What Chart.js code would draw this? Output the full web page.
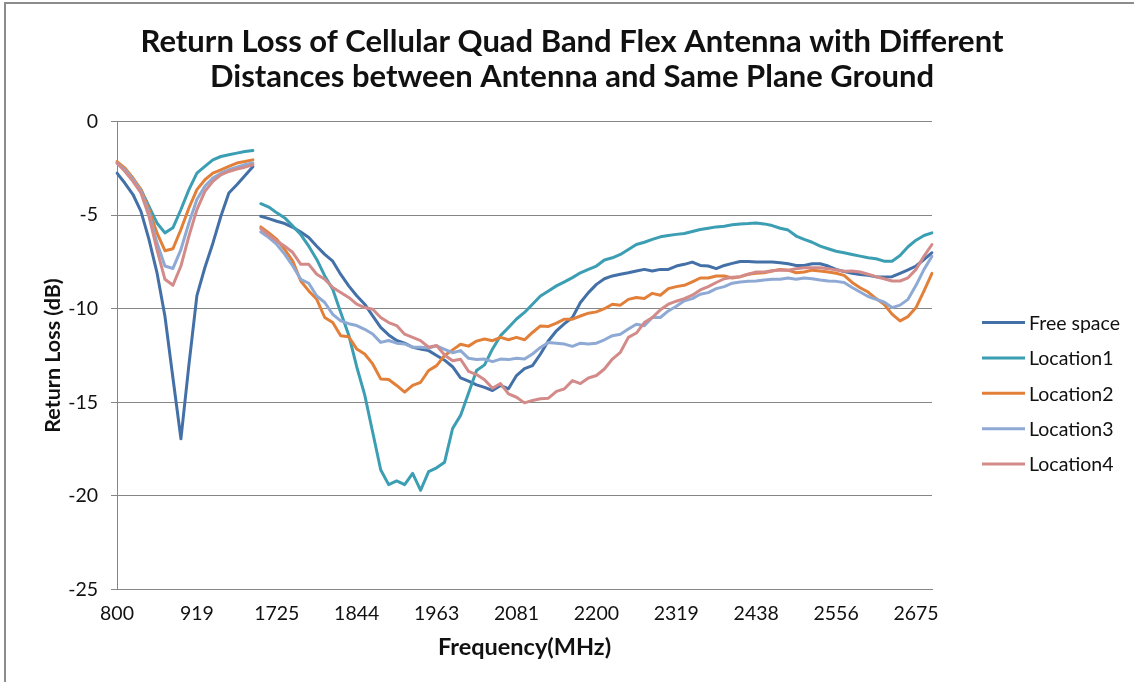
<!DOCTYPE html>
<html>
<head>
<meta charset="utf-8">
<script src="https://cdn.jsdelivr.net/npm/chart.js@4.4.1/dist/chart.umd.min.js"></script>
<style>
  html, body { margin: 0; padding: 0; background: #ffffff; }
  #wrap { position: relative; width: 1134px; height: 682px; overflow: hidden; }
  #frame { position: absolute; left: 4px; top: 2px; width: 1200px; height: 800px;
           border-left: 2px solid #8c8c8c; border-top: 2px solid #8c8c8c; pointer-events: none; }
</style>
</head>
<body>
<div id="wrap">
  <canvas id="c" width="1134" height="682"></canvas>
  <div id="frame"></div>
</div>
<script>
// ---------------- data ----------------
const titleLines = [
  "Return Loss of Cellular Quad Band Flex Antenna with Different",
  "Distances between Antenna and Same Plane Ground"
];
const xTitle = "Frequency(MHz)";
const yTitle = "Return Loss (dB)";

// sweep points (MHz): low band then high band
const lowBandMHz = [800, 812, 824, 836, 848, 859, 871, 883, 895, 907, 919, 931, 943, 954, 966, 978, 990, 1002];
const highBandMHz = [
  1701, 1713, 1725, 1737, 1749, 1761, 1773, 1784, 1796, 1808, 1820, 1832, 1844, 1856, 1868, 1879, 1891, 1903,
  1915, 1927, 1939, 1951, 1963, 1974, 1986, 1998, 2010, 2022, 2034, 2046, 2058, 2069, 2081, 2093, 2105, 2117,
  2129, 2141, 2153, 2164, 2176, 2188, 2200, 2212, 2224, 2236, 2248, 2259, 2271, 2283, 2295, 2307, 2319, 2331,
  2343, 2354, 2366, 2378, 2390, 2402, 2414, 2426, 2438, 2449, 2461, 2473, 2485, 2497, 2509, 2521, 2533, 2544,
  2556, 2568, 2580, 2592, 2604, 2616, 2628, 2639, 2651, 2663, 2675, 2687, 2699
];
const tickLabels = ["800", "919", "1725", "1844", "1963", "2081", "2200", "2319", "2438", "2556", "2675"];
const yTicks = { min: -25, max: 0, step: 5 };

const seriesNames = ["Free space", "Location1", "Location2", "Location3", "Location4"];

const freeSpace = [
  -2.76, -3.3, -3.9, -4.8, -6.3, -8.07, -10.4, -13.7, -16.95, -13.0, -9.3, -7.8, -6.5, -5.06, -3.82, -3.38, -2.9, -2.42,
  -5.06, -5.19, -5.33, -5.45, -5.65, -5.9, -6.2, -6.66, -7.1, -7.46, -8.17, -8.78, -9.31, -9.76, -10.38, -11.0, -11.4, -11.7,
  -11.84, -12.06, -12.15, -12.24, -12.5, -12.75, -13.1, -13.7, -13.87, -14.07,
  -14.2, -14.37, -14.1, -14.28, -13.57, -13.2, -13.04, -12.42, -11.71, -11.18, -10.8, -10.47, -9.67, -9.14, -8.7, -8.4,
  -8.25, -8.16, -8.08, -7.99, -7.9, -7.99, -7.9, -7.9, -7.72,
  -7.63, -7.51, -7.69, -7.72, -7.86, -7.69, -7.58, -7.48, -7.48, -7.51, -7.51, -7.51, -7.55, -7.6, -7.69, -7.69,
  -7.6, -7.6, -7.72, -7.9, -8.01, -8.11, -8.18, -8.22, -8.29, -8.31, -8.29, -8.11, -7.93, -7.72, -7.37, -7.01
];
const location1 = [
  -2.2, -2.58, -3.11, -3.64, -4.53, -5.42, -5.95, -5.68, -4.7, -3.64, -2.76, -2.4, -2.05, -1.87, -1.78, -1.69, -1.6, -1.55,
  -4.39, -4.57, -4.88, -5.15, -5.59, -6.04, -6.66, -7.37, -8.25, -8.96, -10.2, -11.4, -13.1, -14.6, -16.6, -18.6, -19.4, -19.2,
  -19.4, -18.8, -19.7, -18.7, -18.5, -18.2, -16.4, -15.7, -14.5, -13.3,
  -13.0, -12.15, -11.44, -11.0, -10.55, -10.2, -9.76, -9.32, -9.05, -8.78, -8.57, -8.34, -8.08, -7.9, -7.72, -7.4,
  -7.28, -7.1, -6.84, -6.57, -6.45, -6.3, -6.16, -6.09, -6.03,
  -5.98, -5.88, -5.77, -5.7, -5.63, -5.59, -5.52, -5.47, -5.45, -5.42, -5.47, -5.56, -5.7, -5.8, -6.12, -6.3,
  -6.45, -6.66, -6.8, -6.93, -7.01, -7.1, -7.19, -7.28, -7.33, -7.46, -7.46, -7.16, -6.69, -6.34, -6.09, -5.95
];
const location2 = [
  -2.14, -2.49, -3.02, -3.64, -4.7, -5.95, -6.9, -6.8, -5.77, -4.62, -3.64, -3.11, -2.76, -2.58, -2.4, -2.22, -2.14, -2.05,
  -5.63, -5.95, -6.3, -6.84, -7.46, -8.52, -9.05, -9.5, -10.47, -10.74, -11.44, -11.5, -12.15, -12.42, -12.95, -13.75, -13.78, -14.1,
  -14.46, -14.1, -13.93, -13.3, -13.04, -12.5, -12.2, -11.9, -12.0, -11.73,
  -11.62, -11.71, -11.53, -11.66, -11.53, -11.66, -11.27, -10.92, -10.95, -10.77, -10.56, -10.56, -10.39, -10.24, -10.17, -10.0,
  -9.76, -9.81, -9.5, -9.4, -9.46, -9.18, -9.28, -8.93, -8.82,
  -8.75, -8.57, -8.36, -8.36, -8.25, -8.25, -8.36, -8.29, -8.16, -8.11, -8.08, -7.99, -7.9, -7.94, -8.08, -8.04,
  -7.94, -7.99, -8.04, -8.11, -8.22, -8.6, -8.88, -9.11, -9.46, -9.76, -10.29, -10.65, -10.42, -9.94, -9.05, -8.11
];
const location3 = [
  -2.22, -2.58, -3.11, -3.73, -4.88, -6.48, -7.72, -7.85, -6.84, -5.42, -4.17, -3.46, -3.02, -2.76, -2.58, -2.44, -2.31, -2.22,
  -5.9, -6.2, -6.57, -7.1, -7.72, -8.43, -8.64, -9.32, -9.67, -10.3, -10.65, -10.8, -10.9, -11.1, -11.35, -11.8, -11.7, -11.84,
  -11.88, -12.06, -12.06, -12.1, -11.98, -12.17, -12.35, -12.24, -12.65, -12.71,
  -12.69, -12.83, -12.69, -12.72, -12.65, -12.69, -12.42, -12.07, -11.8, -11.84, -11.89, -12.01, -11.84, -11.89, -11.84, -11.66,
  -11.44, -11.36, -11.09, -10.83, -10.91, -10.47, -10.47, -10.12, -9.87,
  -9.58, -9.46, -9.23, -9.14, -8.93, -8.82, -8.64, -8.57, -8.54, -8.52, -8.47, -8.43, -8.43, -8.36, -8.43, -8.36,
  -8.4, -8.47, -8.52, -8.54, -8.6, -8.87, -9.11, -9.35, -9.5, -9.64, -9.94, -9.81, -9.5, -8.75, -7.9, -7.2
];
const location4 = [
  -2.22, -2.67, -3.2, -3.82, -5.06, -6.84, -8.43, -8.75, -7.72, -6.12, -4.71, -3.73, -3.2, -2.85, -2.67, -2.54, -2.44, -2.31,
  -5.72, -6.07, -6.39, -6.66, -7.0, -7.63, -7.63, -8.16, -8.43, -8.87, -9.14, -9.4, -9.76, -9.94, -10.03, -10.47, -10.74, -10.9,
  -11.36, -11.53, -11.7, -12.06, -11.97, -12.47, -12.78, -12.7, -13.35, -13.52,
  -13.79, -14.25, -14.0, -14.55, -14.73, -15.03, -14.9, -14.81, -14.78, -14.42, -14.28, -13.84, -14.0, -13.7, -13.57, -13.22,
  -12.69, -12.33, -11.53, -11.3, -10.74, -10.47, -10.06, -9.76, -9.6,
  -9.46, -9.28, -9.0, -8.82, -8.6, -8.4, -8.32, -8.29, -8.16, -8.04, -8.04, -7.97, -7.93, -7.95, -7.86, -7.81,
  -7.81, -7.81, -7.86, -7.93, -8.0, -7.99, -8.04, -8.16, -8.29, -8.4, -8.52, -8.52, -8.35, -7.9, -7.19, -6.57
];

// ---------------- styles ----------------
const seriesColors = ["#4470a8", "#3b9eb3", "#e2803a", "#8eaad4", "#d38b8a"];
const FONT = "Lato, 'Open Sans', sans-serif";
const TEXT = "#111111";
const GRID = "#868686";

const categories = lowBandMHz.concat(highBandMHz).map(String);
const bandBreak = lowBandMHz.length - 1;   // no segment drawn between the two sweeps
const allSeries = [freeSpace, location1, location2, location3, location4];

const datasets = allSeries.map((vals, i) => ({
  label: seriesNames[i],
  data: vals,
  borderColor: seriesColors[i],
  backgroundColor: seriesColors[i],
  borderWidth: 3,
  pointRadius: 0,
  pointHoverRadius: 0,
  tension: 0,
  fill: false,
  borderJoinStyle: 'round',
  borderCapStyle: 'round',
  order: allSeries.length - i,
  segment: {
    borderColor: ctx => ctx.p0DataIndex === bandBreak ? 'rgba(0,0,0,0)' : seriesColors[i]
  }
}));

const sideLegend = {
  id: 'sideLegend',
  afterDraw(chart, args, o) {
    const ctx = chart.ctx;
    ctx.save();
    ctx.font = o.size + "px " + FONT;
    ctx.textBaseline = 'middle';
    ctx.textAlign = 'left';
    chart.data.datasets.forEach((ds, i) => {
      const y = o.top + i * o.gap;
      ctx.strokeStyle = ds.borderColor;
      ctx.lineWidth = ds.borderWidth;
      ctx.lineCap = 'butt';
      ctx.beginPath();
      ctx.moveTo(o.x, y);
      ctx.lineTo(o.x + o.len, y);
      ctx.stroke();
      ctx.fillStyle = TEXT;
      ctx.fillText(ds.label, o.x + o.len + 4, y + 1);
    });
    ctx.restore();
  }
};

new Chart(document.getElementById('c'), {
  type: 'line',
  data: { labels: categories, datasets },
  plugins: [sideLegend],
  options: {
    responsive: false,
    animation: false,
    devicePixelRatio: 1,
    events: [],
    layout: { padding: { left: 10, right: 0, top: 0, bottom: 0 } },
    plugins: {
      legend: { display: false },
      tooltip: { enabled: false },
      title: {
        display: true,
        text: titleLines,
        color: TEXT,
        font: { family: FONT, weight: 'bold', size: 31, lineHeight: 35 / 31 },
        padding: { top: 24.5, bottom: 27 }
      },
      sideLegend: { x: 982, len: 43, top: 322.6, gap: 35.35, size: 19.5 }
    },
    scales: {
      x: {
        type: 'category',
        offset: false,
        grid: { display: false, drawTicks: false },
        border: { display: true, color: GRID, width: 1 },
        ticks: {
          autoSkip: false, maxRotation: 0, minRotation: 0, padding: 13,
          color: TEXT, font: { family: FONT, size: 19.5 },
          callback: function (v) {
            const lab = this.getLabelForValue(v);
            return tickLabels.includes(lab) ? lab : '';
          }
        },
        title: {
          display: true, text: xTitle, color: TEXT,
          font: { family: FONT, weight: 'bold', size: 23.5 },
          padding: { top: 0, bottom: 20 }
        },
        afterFit: s => { s.height = 92.5; }
      },
      y: {
        min: yTicks.min, max: yTicks.max,
        grid: { color: GRID, lineWidth: 1, drawTicks: true, tickLength: 6 },
        border: { display: true, color: GRID, width: 1 },
        ticks: { stepSize: yTicks.step, padding: 13, color: TEXT, font: { family: FONT, size: 19.5 } },
        title: {
          display: true, text: yTitle, color: TEXT,
          font: { family: FONT, weight: 'bold', size: 21.5 },
          padding: { top: 30, bottom: 0 }
        },
        afterFit: s => { s.width = 107; }
      },
      legendSpace: {
        type: 'linear', position: 'right', display: true,
        grid: { display: false, drawTicks: false }, border: { display: false },
        ticks: { display: false }, title: { display: false },
        afterFit: s => { s.width = 202; }
      }
    }
  }
});
</script>
</body>
</html>
